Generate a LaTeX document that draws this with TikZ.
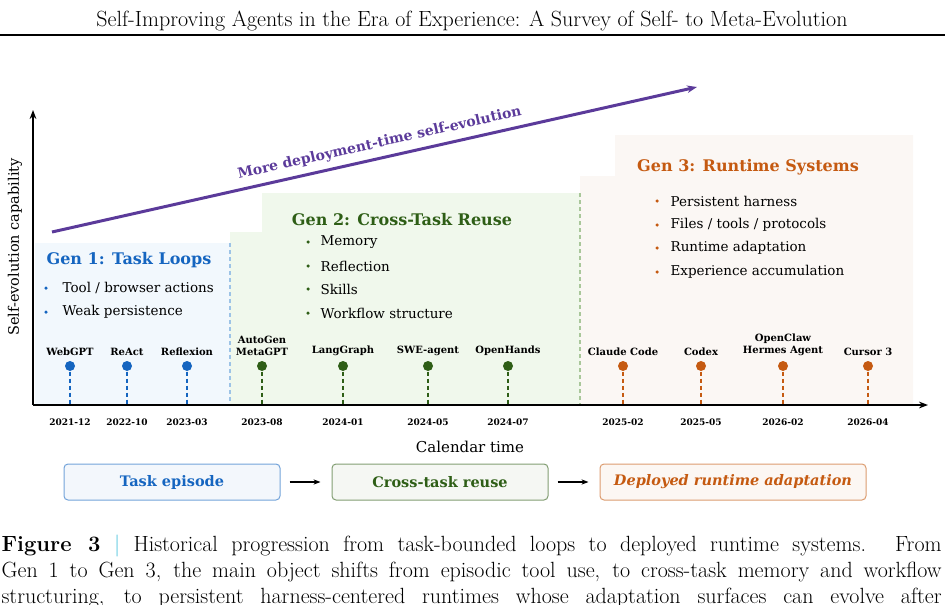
\documentclass[tikz,border=0pt]{standalone}
\usepackage{fontspec}
\newfontfamily\figfont{DejaVu Serif}
\usetikzlibrary{arrows.meta, positioning}
\definecolor{cblue}{HTML}{1565C0}
\definecolor{cbluebg}{HTML}{F2F8FD}
\definecolor{cblueline}{HTML}{9DC3E6}
\definecolor{cgreen}{HTML}{2E5E16}
\definecolor{cgreenbg}{HTML}{F0F8EC}
\definecolor{cgreenline}{HTML}{A9C79A}
\definecolor{corange}{HTML}{C55A11}
\definecolor{corangebg}{HTML}{FBF7F4}
\definecolor{cpurple}{HTML}{5B3A9A}
\definecolor{ccyan}{HTML}{4FC3DC}
\tikzset{
  every picture/.style={line width=1.2pt},
  gentitle/.style={font=\figfont\bfseries\fontsize{16}{18}\selectfont, text=#1},
  item/.style={font=\figfont\fontsize{13.5}{15}\selectfont, anchor=west, inner sep=0pt},
  bul/.style={circle, fill=#1, inner sep=0pt, minimum size=3.5pt},
  dot/.style={circle, fill=#1, inner sep=0pt, minimum size=10pt},
  stem/.style={draw=#1, dash pattern=on 4pt off 3pt, line width=1.5pt},
  toollabel/.style={font=\figfont\bfseries\fontsize{10}{11.5}\selectfont, align=center, anchor=south, inner sep=1pt},
  datelabel/.style={font=\figfont\bfseries\fontsize{9}{10}\selectfont},
  stagebox/.style={draw=#1!60, fill=#1!5, text=#1, rounded corners=4pt, minimum height=36pt,
    line width=1pt, font=\figfont\bfseries\fontsize{14.5}{16}\selectfont},
  axis/.style={-{Stealth[length=9pt]}, line width=2.2pt},
  flow/.style={-{Stealth[length=7pt]}, line width=2pt},
  captionline/.style={anchor=base west, inner sep=0pt, font=\fontsize{22}{25}\selectfont},
}

\begin{document}
\begin{tikzpicture}[x=1pt,y=-1pt]
  \useasboundingbox (0,0) rectangle (945,605);
  \clip (0,0) rectangle (945,605);
  % running head
  \node[font=\fontsize{22}{24}\selectfont, inner sep=0pt, anchor=base] (head) at (472,27) {Self-Improving Agents in the Era of Experience: A Survey of Self- to Meta-Evolution};
  \draw[line width=1.6pt] (0,35) -- (945,35);

  % generation backgrounds
  \fill[cbluebg] (35,243) rectangle (230,405);
  \fill[cgreenbg] (230,405) |- (262,232) |- (580,193) -- (580,405) -- cycle;
  \fill[corangebg] (580,405) |- (615,176) |- (913,135) -- (913,405) -- cycle;
  \draw[cblueline, dash pattern=on 4pt off 3pt, line width=1.5pt] (230,243) -- (230,405);
  \draw[cgreenline, dash pattern=on 4pt off 3pt, line width=1.5pt] (580,193) -- (580,405);

  % axes
  \coordinate (origin) at (33,405);
  \coordinate (ytip) at (33,110);
  \coordinate (xtip) at (928,405);
  \draw[axis] (origin) -- (ytip);
  \draw[axis] (origin) -- (xtip);
  \node[font=\figfont\fontsize{14.5}{16}\selectfont, rotate=90] (ylab) at (15,247) {Self-evolution capability};
  \node[font=\figfont\fontsize{15}{17}\selectfont] (xlab) at (470,447) {Calendar time};

  % trend arrow
  \coordinate (trend0) at (52,232);
  \coordinate (trend1) at (697,87);
  \draw[cpurple, -{Stealth[length=10pt]}, line width=3pt] (trend0) -- (trend1)
    node[pos=0.513, sloped, above=3pt, font=\figfont\bfseries\fontsize{14}{16}\selectfont, text=cpurple] (trendlab) {More deployment-time self-evolution};

  % generation titles and items
  \node[gentitle=cblue] (gen1) at (129,260) {Gen 1: Task Loops};
  \node[gentitle=cgreen] (gen2) at (402,220) {Gen 2: Cross-Task Reuse};
  \node[gentitle=corange] (gen3) at (748,167) {Gen 3: Runtime Systems};
  \foreach \y/\txt [count=\i] in {288/{Tool / browser actions}, 312/Weak persistence} {
    \node[bul=cblue] (b1\i) at (46,\y) {};
    \node[item] (t1\i) at (62,\y) {\txt};
  }
  \foreach \y/\txt [count=\i] in {242/Memory, 266/Reflection, 289/Skills, 313/Workflow structure} {
    \node[bul=cgreen] (b2\i) at (308,\y) {};
    \node[item] (t2\i) at (320,\y) {\txt};
  }
  \foreach \y/\txt [count=\i] in {201/Persistent harness, 225/{Files / tools / protocols}, 248/Runtime adaptation, 272/Experience accumulation} {
    \node[bul=corange] (b3\i) at (657,\y) {};
    \node[item] (t3\i) at (670,\y) {\txt};
  }

  % systems on the timeline
  \foreach \name/\x/\lbl/\date/\col in {
      webgpt/70/WebGPT/2021-12/cblue,
      react/127/ReAct/2022-10/cblue,
      reflexion/187/Reflexion/2023-03/cblue,
      autogen/262/{AutoGen\\MetaGPT}/2023-08/cgreen,
      langgraph/343/LangGraph/2024-01/cgreen,
      sweagent/428/SWE-agent/2024-05/cgreen,
      openhands/508/OpenHands/2024-07/cgreen,
      claude/623/Claude Code/2025-02/corange,
      codex/701/Codex/2025-05/corange,
      openclaw/783/{OpenClaw\\Hermes Agent}/2026-02/corange,
      cursor/868/Cursor 3/2026-04/corange} {
    \node[dot=\col] (d\name) at (\x,366) {};
    \coordinate (a\name) at (\x,404);
    \draw[stem=\col] (d\name) -- (a\name);
    \node[toollabel] (l\name) at (\x,357) {\lbl};
    \node[datelabel] (date\name) at (\x,422) {\date};
  }

  % stage summary
  \node[stagebox=cblue, minimum width=216pt] (episode) at (172,482) {Task episode};
  \node[stagebox=cgreen, minimum width=216pt] (reuse) at (440,482) {Cross-task reuse};
  \node[stagebox=corange, minimum width=266pt] (runtime) at (733,482) {\itshape Deployed runtime adaptation};
  \draw[flow, shorten <=9pt, shorten >=11pt] (episode) -- (reuse);
  \draw[flow, shorten <=9pt, shorten >=11pt] (reuse) -- (runtime);

  % caption
  \node[captionline] (cap1) at (1,551) {\makebox[940pt][s]{\textbf{Figure 3} \textcolor{ccyan}{|} Historical progression from task-bounded loops to deployed runtime systems. From}};
  \node[captionline] (cap2) at (1,577) {\makebox[940pt][s]{Gen 1 to Gen 3, the main object shifts from episodic tool use, to cross-task memory and workflow}};
  \node[captionline] (cap3) at (1,603) {\makebox[940pt][s]{structuring, to persistent harness-centered runtimes whose adaptation surfaces can evolve after}};
\end{tikzpicture}
\end{document}
